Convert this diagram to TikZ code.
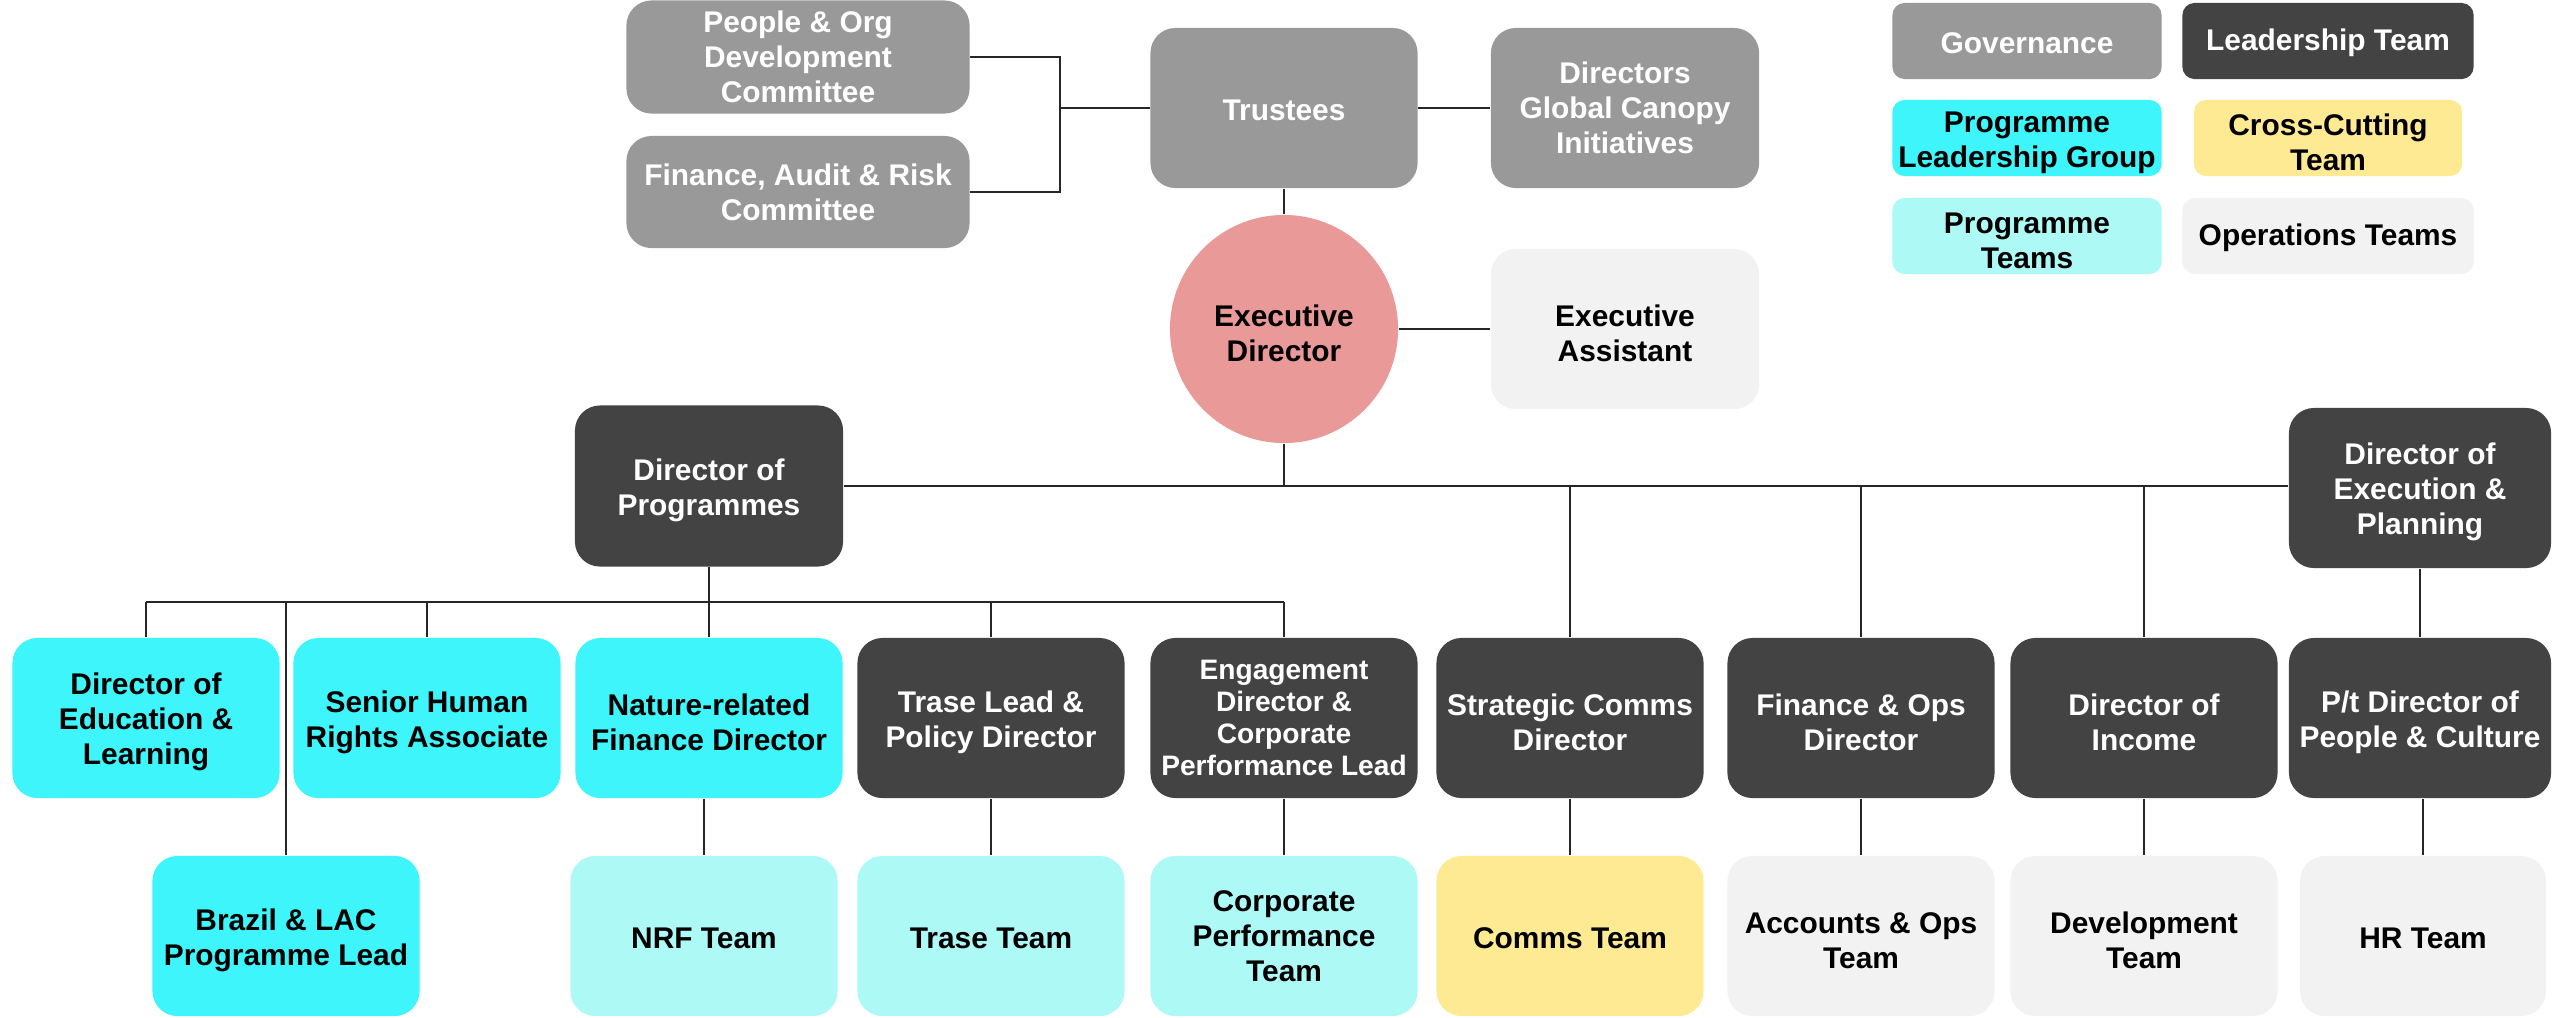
\documentclass[tikz,border=0pt]{standalone}
\usepackage{fontspec}
\setmainfont{Liberation Sans}
\usepackage{tikz}
\definecolor{govgray}{HTML}{999999}
\definecolor{leaddark}{HTML}{434343}
\definecolor{plgcyan}{HTML}{3DF5FB}
\definecolor{progcyan}{HTML}{ADF9F6}
\definecolor{cctyellow}{HTML}{FFEA94}
\definecolor{opsgray}{HTML}{F2F2F2}
\definecolor{edpink}{HTML}{EA9999}
\newcommand{\padtop}{\rule{0pt}{8.5pt}}

\begin{document}
\begin{tikzpicture}[x=0.01cm,y=-0.01cm,font=\bfseries\fontsize{8.5}{9.9}\selectfont,
card/.style={rounded corners=0.25cm,align=center,inner sep=0pt,minimum width=2.67cm,minimum height=1.6cm,execute at begin node=\rule{0pt}{7pt}},
gov/.style={card,fill=govgray,text=white},lead/.style={card,fill=leaddark,text=white},
plg/.style={card,fill=plgcyan,text=black},cct/.style={card,fill=cctyellow,text=black},
prog/.style={card,fill=progcyan,text=black},ops/.style={card,fill=opsgray,text=black},
swatch/.style={rounded corners=0.12cm,minimum height=0.76cm},
link/.style={draw=black!85,line width=0.6pt}]
\useasboundingbox[fill=white] (0,0) rectangle (2552,1017);
\node[gov,minimum width=3.43cm,minimum height=1.13cm] (pod) at (798,57) {People \& Org\\Development\\Committee};
\node[gov,minimum width=3.43cm,minimum height=1.12cm] (far) at (798,192) {Finance, Audit \& Risk\\Committee};
\node[gov] (trustees) at (1284,108) {Trustees};
\node[gov,minimum width=2.68cm] (gci) at (1625,108) {Directors\\Global Canopy\\Initiatives};
\node[circle,fill=edpink,minimum size=2.28cm,align=center,inner sep=0pt] (ed) at (1284,329) {\padtop Executive\\Director};
\node[ops,minimum width=2.68cm] (ea) at (1625,329) {\padtop Executive\\Assistant};
\node[lead,minimum width=2.68cm,minimum height=1.61cm] (dop) at (709,486) {\padtop Director of\\Programmes};
\node[lead,minimum width=2.62cm] (dep) at (2420,488) {\padtop Director of\\Execution \&\\Planning};
\foreach \n/\x/\k/\s in %
{edu/146/plg/{Director of\\Education \&\\Learning},shra/427/plg/{Senior Human\\Rights Associate},
nrfd/709/plg/{Nature-related\\Finance Director},trd/991/lead/{Trase Lead \&\\Policy Director},
scd/1570/lead/{Strategic Comms\\Director},fod/1861/lead/{Finance \& Ops\\Director},inc/2144/lead/{Director of\\Income}} {
   \node[\k] (\n) at (\x,718) {\padtop\s};
}
\node[lead,font=\bfseries\fontsize{8}{9.1}\selectfont] (eng) at (1284,718) {Engagement\\Director \&\\Corporate\\Performance Lead};
\node[lead,minimum width=2.62cm] (ptd) at (2420,718) {\padtop P/t Director of\\People \& Culture};
\foreach \n/\x/\k/\s in %
{brazil/286/plg/{\padtop Brazil \& LAC\\Programme Lead},nrft/704/prog/{NRF Team},trt/991/prog/{Trase Team},
cpt/1284/prog/{Corporate\\Performance\\Team},cmt/1570/cct/{Comms Team},aot/1861/ops/{\padtop Accounts \& Ops\\Team},
dvt/2144/ops/{\padtop Development\\Team}} {
   \node[\k] (\n) at (\x,936) {\s};
}
\node[ops,minimum width=2.46cm] (hrt) at (2423,936) {HR Team};
\node[gov,swatch,minimum width=2.69cm] (kgov) at (2027,41) {Governance};
\node[lead,swatch,minimum width=2.91cm] (klead) at (2328,41) {Leadership Team};
\node[plg,swatch,minimum width=2.69cm] (kplg) at (2027,138) {\padtop Programme\\Leadership Group};
\node[cct,swatch,minimum width=2.68cm] (kcct) at (2328,138) {\padtop Cross-Cutting\\Team};
\node[prog,swatch,minimum width=2.69cm] (kprog) at (2027,236) {\padtop Programme\\Teams};
\node[ops,swatch,minimum width=2.91cm] (kops) at (2328,236) {Operations Teams};
\coordinate (gj) at (1060,108);
\coordinate (pbar) at (0,602);
\draw[link] (pod.east) -| (gj) |- (far.east);
\draw[link] (gj) -- (trustees.west);
\draw[link] (trustees) -- (gci);
\draw[link] (trustees.south) -- (ed.north);
\draw[link] (ed) -- (ea);
\draw[link] (dop.east) -- (dop.east -| dep.west);
\draw[link] (ed.south) -- (ed.south |- dop.east);
\foreach \n in {scd,fod,inc} \draw[link] (\n.north |- dop.east) -- (\n.north);
\draw[link] (dep) -- (ptd);
\draw[link] (dop.south) -- (dop.south |- pbar);
\draw[link] (edu.north |- pbar) -- (eng.north |- pbar);
\foreach \n in {edu,shra,nrfd,trd,eng,brazil} \draw[link] (\n.north |- pbar) -- (\n.north);
\foreach \a/\b in {nrfd/nrft,trd/trt,eng/cpt,scd/cmt,fod/aot,inc/dvt,ptd/hrt} \draw[link] (\b.north |- \a.south) -- (\b.north);
\end{tikzpicture}
\end{document}
